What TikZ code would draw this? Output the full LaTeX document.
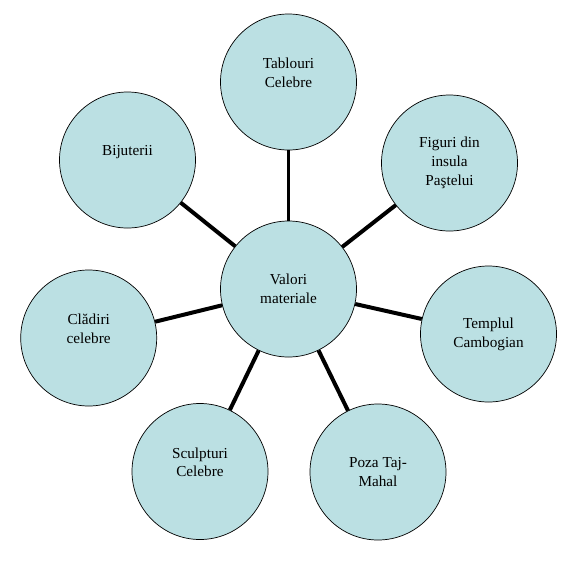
\documentclass[tikz,border=0pt]{standalone}
\usepackage{fontspec}
\setmainfont{Liberation Serif}
\usepackage{tikz}
\usetikzlibrary{positioning}
\definecolor{bubble}{RGB}{187,224,227}

\begin{document}
\begin{tikzpicture}[x=0.03cm, y=-0.03cm,
        bubble/.style={draw, circle, minimum size=4.08cm, inner sep=0pt, align=center, fill=bubble, line width=0.6pt, font=\fontsize{13}{16}\selectfont},
        spoke/.style={line width=3.4pt, black}
    ]
        \useasboundingbox (0,0) rectangle (577,577);

        \node[bubble] (valori) at (288.5,289) {Valori\\materiale};
        \node[bubble] (tablouri) at (288.5,82) {Tablouri\\Celebre\\\mbox{}};
        \node[bubble] (figuri) at (449.5,163) {Figuri din\\insula\\Paştelui};
        \node[bubble] (templul) at (488.5,334) {Templul\\Cambogian};
        \node[bubble] (poza) at (378,472) {Poza Taj-\\Mahal};
        \node[bubble] (sculpturi) at (200,471.5) {Sculpturi\\Celebre\\\mbox{}};
        \node[bubble] (cladiri) at (88.7,338) {Clădiri\\celebre\\\mbox{}};
        \node[bubble] (bijuterii) at (127.5,160) {Bijuterii\\\mbox{}};

        
        \draw[spoke] (valori) -- (tablouri);
        \draw[spoke] (valori) -- (figuri);
        \draw[spoke] (valori) -- (templul);
        \draw[spoke] (valori) -- (poza);
        \draw[spoke] (valori) -- (sculpturi);
        \draw[spoke] (valori) -- (cladiri);
        \draw[spoke] (valori) -- (bijuterii);
    \end{tikzpicture}
\end{document}
